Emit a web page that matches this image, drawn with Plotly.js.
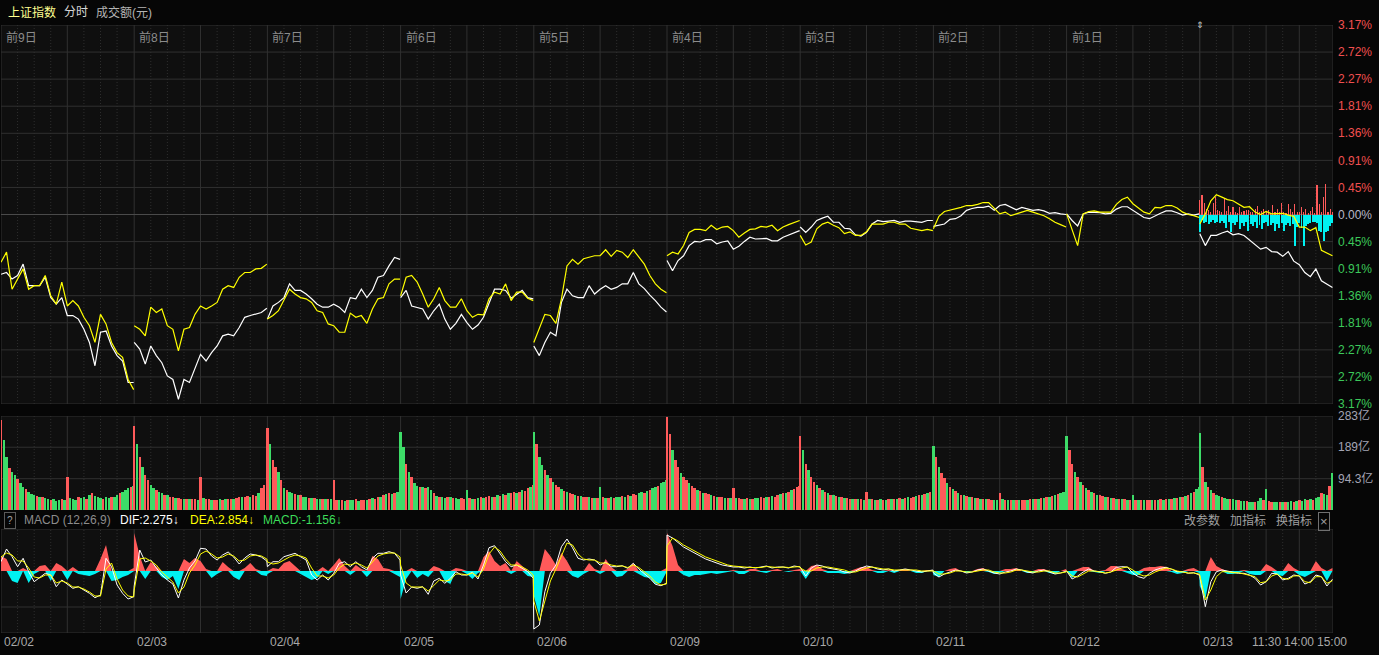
<!DOCTYPE html>
<html><head><meta charset="utf-8">
<script src="https://cdn.plot.ly/plotly-3.0.1.min.js"></script>
<style>html,body{margin:0;padding:0;background:#060606;}#chart{width:1379px;height:655px;}</style>
</head><body><div id="chart"></div>
<script>
// ---------------- DATA ----------------
const dayLabels = ['前9日','前8日','前7日','前6日','前5日','前4日','前3日','前2日','前1日',''];
const dateLabels = ['02/02','02/03','02/04','02/05','02/06','02/09','02/10','02/11','02/12','02/13'];
const timeLabels = ['11:30','14:00','15:00'];
const timeLabelMin = [120,180,240];
const pctTicks = [3.17,2.72,2.27,1.81,1.36,0.91,0.45,0,-0.45,-0.91,-1.36,-1.81,-2.27,-2.72,-3.17];
const volTicks = [94.3,189,283];
const volTickText = ['94.3亿','189亿','283亿'];

// price change (%) sampled every 10 minutes, one array per trading day
const priceWhite = [
 [-1.00,-0.97,-1.08,-1.02,-0.83,-1.19,-1.19,-1.19,-1.05,-1.39,-1.50,-1.39,-1.69,-1.69,-1.75,-1.92,-2.14,-2.53,-1.97,-1.95,-2.20,-2.36,-2.45,-2.81,-2.81],
 [-2.14,-2.25,-2.50,-2.20,-2.36,-2.48,-2.70,-2.76,-3.09,-2.76,-2.81,-2.59,-2.34,-2.45,-2.31,-2.20,-2.03,-2.00,-2.03,-1.89,-1.72,-1.69,-1.67,-1.64,-1.57],
 [-1.75,-1.53,-1.47,-1.39,-1.16,-1.27,-1.27,-1.33,-1.41,-1.50,-1.55,-1.55,-1.50,-1.55,-1.64,-1.39,-1.41,-1.25,-1.39,-1.27,-1.05,-1.02,-0.86,-0.72,-0.75],
 [-1.39,-1.27,-1.53,-1.55,-1.58,-1.75,-1.61,-1.50,-1.75,-1.92,-1.82,-1.67,-1.81,-1.92,-1.85,-1.72,-1.47,-1.25,-1.25,-1.27,-1.40,-1.33,-1.27,-1.39,-1.41],
 [-2.20,-2.36,-2.14,-1.97,-2.03,-1.47,-1.25,-1.36,-1.39,-1.39,-1.19,-1.33,-1.25,-1.19,-1.25,-1.22,-1.16,-1.16,-0.97,-1.16,-1.24,-1.35,-1.44,-1.55,-1.63],
 [-0.77,-0.94,-0.77,-0.69,-0.52,-0.45,-0.46,-0.42,-0.42,-0.49,-0.46,-0.44,-0.58,-0.53,-0.45,-0.38,-0.41,-0.41,-0.40,-0.44,-0.44,-0.38,-0.34,-0.30,-0.27],
 [-0.21,-0.30,-0.21,-0.10,-0.06,-0.03,-0.13,-0.13,-0.23,-0.24,-0.34,-0.36,-0.30,-0.16,-0.10,-0.12,-0.11,-0.10,-0.13,-0.11,-0.11,-0.12,-0.13,-0.10,-0.10],
 [-0.20,-0.18,-0.16,-0.08,-0.07,-0.02,0.07,0.10,0.12,0.12,0.14,0.07,0.15,0.17,0.12,0.08,0.12,0.09,0.07,0.08,0.06,0.02,0.03,0.01,0.00],
 [0.01,-0.10,-0.19,0.01,0.04,0.04,0.03,0.01,0.02,0.09,0.13,0.13,0.07,0.01,-0.05,-0.07,-0.02,0.02,0.06,0.06,0.03,-0.01,0.01,-0.01,0.01],
 [-0.32,-0.52,-0.35,-0.35,-0.31,-0.28,-0.34,-0.32,-0.35,-0.43,-0.50,-0.58,-0.55,-0.62,-0.63,-0.70,-0.62,-0.78,-0.84,-0.97,-1.04,-0.91,-1.11,-1.17,-1.22]
];
const priceYellow = [
 [-0.80,-0.63,-1.25,-1.08,-0.91,-1.25,-1.19,-1.19,-1.02,-1.36,-1.50,-1.13,-1.53,-1.44,-1.53,-1.72,-1.86,-2.14,-1.67,-1.83,-2.14,-2.31,-2.39,-2.76,-2.93],
 [-1.86,-1.92,-2.03,-1.55,-1.64,-1.58,-1.86,-1.92,-2.28,-1.92,-1.89,-1.67,-1.53,-1.58,-1.53,-1.47,-1.25,-1.19,-1.22,-1.05,-0.97,-0.97,-0.91,-0.90,-0.83],
 [-1.75,-1.69,-1.61,-1.44,-1.25,-1.33,-1.39,-1.41,-1.47,-1.61,-1.64,-1.83,-1.86,-1.97,-1.97,-1.65,-1.72,-1.69,-1.82,-1.58,-1.41,-1.39,-1.16,-1.08,-1.08],
 [-1.36,-1.05,-1.02,-1.13,-1.33,-1.55,-1.41,-1.22,-1.44,-1.55,-1.55,-1.41,-1.61,-1.72,-1.67,-1.68,-1.41,-1.30,-1.33,-1.16,-1.44,-1.30,-1.30,-1.40,-1.44],
 [-2.14,-1.92,-1.67,-1.69,-1.82,-1.41,-0.86,-0.75,-0.83,-0.74,-0.72,-0.69,-0.69,-0.59,-0.70,-0.60,-0.63,-0.72,-0.59,-0.72,-0.83,-1.02,-1.16,-1.25,-1.31],
 [-0.69,-0.63,-0.66,-0.52,-0.30,-0.25,-0.25,-0.27,-0.18,-0.25,-0.21,-0.20,-0.27,-0.38,-0.31,-0.25,-0.24,-0.20,-0.21,-0.18,-0.27,-0.21,-0.17,-0.14,-0.10],
 [-0.35,-0.51,-0.46,-0.24,-0.16,-0.13,-0.18,-0.22,-0.32,-0.29,-0.35,-0.35,-0.29,-0.16,-0.16,-0.16,-0.13,-0.13,-0.16,-0.16,-0.23,-0.25,-0.27,-0.25,-0.27],
 [-0.24,-0.03,0.05,0.07,0.10,0.12,0.15,0.15,0.17,0.20,0.20,0.10,0.01,0.04,-0.02,0.01,0.04,0.07,0.04,0.01,-0.02,-0.07,-0.13,-0.17,-0.21],
 [0.01,-0.24,-0.52,0.01,0.05,0.06,0.04,0.04,0.04,0.17,0.25,0.29,0.18,0.11,0.04,0.01,0.12,0.11,0.15,0.15,0.11,0.04,0.00,-0.02,-0.05],
 [-0.16,0.01,0.23,0.33,0.29,0.25,0.23,0.17,0.12,0.13,0.04,0.00,0.05,0.01,0.01,0.02,-0.01,-0.03,-0.21,-0.21,-0.27,-0.22,-0.60,-0.65,-0.69]
];
// today's buy/sell force bars (%), every 4 minutes
const flowUp = [0.25,0.33,0.20,0.10,0.08,0.05,0.20,0.30,0.08,0.06,0.05,0.28,0.06,0.15,0.04,0.12,0.05,0.03,0.12,0.04,0.06,0.08,0.07,0.05,0.04,0.10,0.14,0.04,0.06,0.10,0.05,0.08,0.03,0.16,0.05,0.10,0.04,0.20,0.05,0.03,0.18,0.10,0.04,0.18,0.05,0.04,0.12,0.04,0.10,0.03,0.06,0.12,0.02,0.49,0.18,0.05,0.30,0.51,0.05,0.10,0.05];
const flowDown = [-0.30,-0.10,-0.15,-0.12,-0.16,-0.13,-0.10,-0.14,-0.12,-0.15,-0.11,-0.14,-0.22,-0.12,-0.30,-0.15,-0.18,-0.12,-0.25,-0.14,-0.20,-0.12,-0.28,-0.16,-0.20,-0.12,-0.22,-0.17,-0.25,-0.15,-0.13,-0.20,-0.17,-0.14,-0.27,-0.16,-0.22,-0.14,-0.27,-0.18,-0.15,-0.20,-0.16,-0.52,-0.21,-0.15,-0.22,-0.52,-0.20,-0.16,-0.14,-0.13,-0.12,-0.15,-0.27,-0.30,-0.44,-0.30,-0.27,-0.20,-0.14];

// turnover (亿元) every 5 minutes, one array per day, with up(R)/down(G) colour codes
const volume = [
 [271,210,160,125,115,105,92,80,70,62,55,48,45,42,40,38,35,33,30,32,28,30,32,30,100,35,33,30,38,35,40,33,45,52,42,38,36,34,38,35,40,38,45,50,55,60,66,68,72],
 [253,200,160,130,105,90,75,66,60,55,50,45,45,40,38,36,36,34,33,33,32,33,32,30,100,35,33,32,30,31,30,32,30,33,32,34,33,35,40,38,40,42,40,45,42,50,66,75,70],
 [247,200,150,130,115,90,66,60,55,50,48,45,45,40,38,36,36,35,34,33,32,33,32,33,90,30,30,30,28,30,30,30,32,28,30,30,30,33,35,33,38,40,45,48,50,48,50,55,60],
 [235,190,140,115,100,80,72,70,68,66,70,60,50,42,40,38,36,38,40,35,36,34,35,33,60,36,34,33,36,38,35,40,42,38,40,45,42,48,45,50,52,55,50,55,60,58,65,70,75],
 [235,200,160,135,120,105,95,85,75,70,62,58,55,50,48,45,42,42,40,38,40,36,35,36,70,38,36,35,38,36,40,38,42,40,45,42,48,45,50,55,52,58,60,65,70,72,80,85,90],
 [280,230,180,150,130,110,100,90,80,72,66,60,56,52,50,48,45,42,40,40,38,36,36,35,65,36,35,34,33,35,34,33,36,35,38,36,40,38,42,40,45,48,50,52,55,60,62,68,72],
 [223,180,140,120,100,85,75,66,60,55,50,46,44,42,40,38,36,35,34,33,33,32,32,31,55,33,32,31,30,32,31,30,32,33,32,34,35,34,36,38,37,40,42,45,44,48,52,55,58],
 [193,160,130,110,95,80,70,62,56,50,46,44,42,40,38,36,35,34,33,32,32,31,30,30,50,32,31,30,30,31,30,29,30,31,30,32,33,32,34,35,36,38,40,42,45,48,50,55,60],
 [223,180,140,115,100,85,75,66,60,55,50,46,44,42,40,38,36,35,34,33,32,32,31,30,45,31,30,30,29,30,29,30,31,30,32,31,33,32,34,36,35,38,40,42,45,50,55,62,70],
 [232,130,85,68,60,50,45,42,38,36,34,33,32,30,30,28,28,26,25,25,24,26,36,30,63,26,25,24,24,25,24,25,24,26,25,28,30,28,33,30,33,30,36,39,51,48,45,72,111]
];
const volColor = [
 'RGGRGGRGGRGGGRGRGGRGGGRGRGGGRGGRGRGGGRGGRGGRGGGRG',
 'RGRGRRGGRGGRGRRGRRGRGRRGRGRRGRRGRGRRGRRGRRGRRGRRG',
 'RGRRGRGRGGRGRGGRGRGGRGRGRRGRGRGGRGRRGRGRRGRGRGRGR',
 'GGRGRGGRGRGGRGRGGRGRGGRRGRGRGRGRRGRGRGRGRRGRGRRGR',
 'GRGGRGRGRRGRGRRGRGRRGRGRGRGRGRGGRGRGRRGGRGRGGRGGG',
 'RRGRRGRRGRRGRGRRGRGRRGRGRGRRGRGRGGRRGRGRRGRGRGRRR',
 'RGRGRRGRGRGRGRGRGRRGRGRGRGRGRGRGRGRGRGRGRRGRGRGRG',
 'GRGRRGRGRGRGRGRGRGRGRRGGRGRGRGRGRRGRGRGRGRGRGRGGR',
 'GRRGRGRGRGRGRRGRGRGRGRGRGRGRGRRGRGRGRGRGRGRGRGRGG',
 'GRGRGRGGRGGRGGRGGRGGRGGRGRRGGRGRGGRGRGGRGRGGRGGRG'
];

// MACD (sampled every 10 minutes per day, continuous over the 10 days)
const difLine = [
 [0.93,2.2,1.43,0.43,1.27,-0.07,-1.07,-0.67,-0.23,-0.4,-1.57,-0.9,-1.33,-1.73,-1.57,-1.9,-2.23,-2.67,-2.4,1.27,0.43,-1.4,-2.23,-2.8,-2.57],
 [-1.5,2.1,0.9,1.1,0.3,-0.4,-0.9,-1.3,-2.7,-0.9,0.3,1.0,2.27,2.2,1.5,1.1,1.6,1.9,1.4,0.7,1.3,1.7,1.6,1.4,1.0],
 [0.43,0.93,0.93,1.43,1.6,1.77,1.43,1.1,-0.4,-0.9,-0.4,-0.9,-0.23,0.77,0.93,0.43,0.93,0.43,0.1,1.27,1.77,1.77,1.93,1.77,1.1],
 [-0.4,-2.2,-1.6,-1.73,-1.57,-2.33,-1.0,-0.73,-1.23,-0.73,-0.07,-0.4,-0.4,-0.13,-0.8,0.6,2.33,2.53,1.77,0.93,0.43,0.6,0.27,-0.07,-0.73],
 [-5.8,-5.4,-2.07,-0.23,0.6,2.43,3.2,2.33,1.27,1.1,1.2,1.1,0.6,0.87,0.43,0.43,0.53,0.27,0.77,0.2,-0.23,-0.73,-1.33,-1.47,-1.23],
 [3.6,3.3,2.8,2.4,2.1,1.8,1.5,1.2,1.0,0.8,0.6,0.5,0.4,0.4,0.3,0.4,0.3,0.4,0.5,0.3,0.4,0.4,0.3,0.5,0.4],
 [0.4,-0.5,0.3,0.6,0.5,0.3,0.2,0.1,-0.1,-0.2,0.0,0.3,0.5,0.4,0.2,0.1,0.2,0.0,0.1,0.2,0.1,0.0,-0.1,0.0,0.1],
 [-0.2,-0.6,-0.3,-0.1,0.1,0.0,-0.2,-0.1,0.1,0.2,0.0,-0.2,-0.3,-0.1,0.0,0.2,0.1,-0.1,-0.2,0.0,0.1,-0.1,-0.3,-0.2,0.0],
 [0.0,-0.8,-0.5,-0.1,0.2,0.0,-0.07,-0.23,-0.1,0.37,0.43,0.4,-0.23,-0.57,-0.73,-0.23,0.1,0.27,0.37,0.17,-0.07,-0.07,-0.23,-0.17,-0.4],
 [-0.57,-3.57,-1.07,-0.07,0.1,0.0,-0.1,-0.23,-0.23,-0.4,-0.73,-1.4,-1.07,-0.23,-0.3,-0.9,-0.73,-0.4,-0.5,-1.3,-1.07,-0.4,-0.57,-1.5,-0.83]
];
const deaLine = [
 [1.4,1.8,1.6,1.0,1.0,0.3,-0.6,-0.7,-0.4,-0.4,-1.2,-1.0,-1.2,-1.6,-1.6,-1.8,-2.1,-2.5,-2.5,0.2,0.8,-0.8,-1.9,-2.5,-2.6],
 [-1.9,1.2,1.3,1.0,0.6,-0.1,-0.6,-1.1,-2.2,-1.6,-0.2,0.6,1.7,2.0,1.7,1.3,1.4,1.7,1.5,1.0,1.1,1.5,1.6,1.5,1.2],
 [0.9,0.7,0.8,1.1,1.4,1.6,1.5,1.3,0.3,-0.5,-0.5,-0.7,-0.4,0.3,0.7,0.6,0.8,0.6,0.3,0.9,1.5,1.7,1.8,1.8,1.4],
 [0.6,-1.2,-1.6,-1.6,-1.6,-2.0,-1.5,-0.9,-1.0,-0.9,-0.3,-0.3,-0.4,-0.2,-0.6,0.2,1.7,2.4,2.0,1.2,0.6,0.6,0.4,0.1,-0.4],
 [-3.0,-5.0,-3.0,-1.0,0.2,1.6,2.8,2.6,1.7,1.2,1.1,1.1,0.8,0.8,0.6,0.5,0.5,0.35,0.6,0.35,-0.05,-0.5,-1.1,-1.4,-1.3],
 [2.5,3.3,3.0,2.6,2.3,2.0,1.7,1.4,1.2,1.0,0.8,0.6,0.5,0.45,0.35,0.35,0.35,0.35,0.45,0.4,0.35,0.4,0.35,0.4,0.45],
 [0.3,0.0,0.0,0.3,0.4,0.4,0.3,0.2,0.1,-0.1,-0.1,0.1,0.3,0.4,0.3,0.2,0.2,0.1,0.1,0.1,0.1,0.1,0.0,0.0,0.0],
 [0.0,-0.3,-0.3,-0.2,0.0,0.0,-0.1,-0.1,0.0,0.1,0.1,-0.1,-0.2,-0.2,-0.1,0.1,0.1,0.0,-0.1,-0.1,0.0,0.0,-0.2,-0.2,-0.1],
 [0.0,-0.5,-0.6,-0.3,0.0,0.0,-0.1,-0.2,-0.1,0.1,0.3,0.4,0.1,-0.3,-0.5,-0.4,-0.1,0.1,0.3,0.2,0.0,-0.1,-0.2,-0.2,-0.3],
 [-0.4,-2.9,-1.9,-0.57,-0.07,-0.07,-0.17,-0.17,-0.3,-0.4,-0.57,-1.17,-1.07,-0.5,-0.3,-0.73,-0.83,-0.5,-0.47,-1.07,-1.17,-0.57,-0.57,-1.23,-0.97]
];
const macdHist = [
 [1.5,1.2,-1.0,-1.2,0.3,-1.2,-0.3,0.5,0.6,-1.0,0.8,0.5,-0.9,0.4,-0.3,-0.4,-0.5,-0.3,1.2,2.6,-1.0,-0.9,-0.6,-0.4,0.3],
 [3.8,1.5,-0.8,0.9,0.4,-0.6,-0.9,-0.5,-1.8,1.2,0.8,1.3,1.0,0.2,-0.7,-0.3,0.9,0.4,-0.6,-0.9,0.3,0.8,0.2,-0.4,-0.5],
 [-0.3,0.3,0.2,0.8,1.0,0.5,-0.3,-0.6,-0.9,-0.7,0.4,-0.3,0.6,1.3,0.5,-0.4,0.6,0.2,-0.6,1.5,1.2,0.3,0.2,-0.3,-0.6],
 [-2.8,-0.8,0.3,-0.7,-0.3,-0.6,0.5,0.3,-1.0,-1.3,0.3,0.2,-0.3,-0.8,-0.2,1.4,2.0,1.0,0.5,0.8,-0.3,1.0,0.5,-0.5,-0.6],
 [-2.5,-4.5,2.2,1.5,0.6,1.8,1.0,-0.5,-0.7,-0.3,0.8,0.2,-0.3,1.2,0.4,-0.6,-0.5,0.2,0.8,-0.3,-0.6,-0.7,-1.3,-1.2,0.3],
 [3.8,2.5,0.6,-0.4,-0.6,-0.4,-0.4,-0.3,-0.2,-0.3,-0.2,-0.1,0.1,-0.3,-0.3,0.2,0.2,-0.1,-0.2,0.1,0.2,0.0,-0.1,0.1,0.2],
 [0.2,-0.8,0.5,0.6,0.2,-0.2,-0.2,-0.2,-0.3,-0.2,0.2,0.4,0.4,0.1,-0.2,-0.2,0.1,-0.2,0.1,0.2,0.0,-0.2,-0.2,0.1,0.1],
 [-0.4,-0.6,0.0,0.2,0.3,0.0,-0.2,0.0,0.2,0.3,-0.1,-0.3,-0.2,0.2,0.2,0.3,0.0,-0.2,-0.2,0.2,0.2,-0.2,-0.3,0.0,0.2],
 [0.0,-0.7,0.2,0.4,0.4,-0.1,-0.2,0.1,0.5,0.5,0.2,-0.2,-0.4,-0.4,0.3,0.4,0.4,0.5,0.4,-0.1,-0.3,-0.2,0.2,0.3,-0.2],
 [-1.5,-2.8,1.4,0.5,0.2,-0.3,-0.3,-0.2,0.1,-0.3,-0.4,-0.4,0.7,0.4,-0.4,-0.5,0.8,0.3,-0.4,-0.6,-0.3,1.0,0.3,-1.0,0.3]
];

// ---------------- BUILD ----------------
const DAY = 241, NDAYS = 10, XMAX = DAY*NDAYS;
const FONT = 'Liberation Sans, Arial, Noto Sans CJK SC, sans-serif';
const RED = '#ff5a5a', GREEN = '#3ddc68', CYAN = '#00f2f2';
const TOP = 25, BOTTOM = 633, PH = BOTTOM - TOP;
const py = p => (BOTTOM - p) / PH;          // pixel row -> paper fraction (for text placement)

function perDay(days, step, gaps){
  const xs=[], ys=[];
  days.forEach((arr,d)=>{
    arr.forEach((v,k)=>{ xs.push(d*DAY + k*step); ys.push(v); });
    if (gaps){ xs.push(d*DAY + DAY - 0.5); ys.push(null); }
  });
  return {xs, ys};
}

const traces = [];
// today's force bars
traces.push({type:'bar', x: flowUp.map((v,k)=>9*DAY + k*4), y: flowUp, base:0, width:2, marker:{color:RED, line:{width:0}}, xaxis:'x', yaxis:'y'});
traces.push({type:'bar', x: flowDown.map((v,k)=>9*DAY + k*4), y: flowDown, base:0, width:3.6, marker:{color:CYAN, line:{width:0}}, xaxis:'x', yaxis:'y'});
// price lines
const pw = perDay(priceWhite, 10, true), pyl = perDay(priceYellow, 10, true);
traces.push({type:'scatter', mode:'lines', x: pw.xs, y: pw.ys, line:{color:'#ffffff', width:1.2}, connectgaps:false, xaxis:'x', yaxis:'y'});
traces.push({type:'scatter', mode:'lines', x: pyl.xs, y: pyl.ys, line:{color:'#ffff00', width:1.2}, connectgaps:false, xaxis:'x', yaxis:'y'});
// volume bars
const vx=[], vy=[], vc=[];
volume.forEach((arr,d)=>arr.forEach((v,k)=>{ vx.push(d*DAY + k*5); vy.push(v); vc.push((volColor[d][k]||'G')==='R'?RED:GREEN); }));
traces.push({type:'bar', x: vx, y: vy, width:4.4, marker:{color:vc, line:{width:0}}, xaxis:'x', yaxis:'y2'});
// MACD histogram as filled areas
const mh = perDay(macdHist, 10, false);
traces.push({type:'scatter', mode:'lines', x: mh.xs, y: mh.ys.map(v=>Math.max(v,0)), fill:'tozeroy', fillcolor:RED, line:{width:0, color:RED}, xaxis:'x', yaxis:'y3'});
traces.push({type:'scatter', mode:'lines', x: mh.xs, y: mh.ys.map(v=>Math.min(v,0)), fill:'tozeroy', fillcolor:CYAN, line:{width:0, color:CYAN}, xaxis:'x', yaxis:'y3'});
const md = perDay(difLine, 10, false), me = perDay(deaLine, 10, false);
traces.push({type:'scatter', mode:'lines', x: md.xs, y: md.ys, line:{color:'#ffffff', width:1}, xaxis:'x', yaxis:'y3'});
traces.push({type:'scatter', mode:'lines', x: me.xs, y: me.ys, line:{color:'#ffff00', width:1}, xaxis:'x', yaxis:'y3'});

// ---------------- GRID / PANELS ----------------
const shapes = [];
const panels = [
  {yref:'y', y0:-3.17, y1:3.17},
  {yref:'y2', y0:0, y1:283},
  {yref:'y3', y0:-6.2, y1:4.2}
];
const SOLID = '#303030', DOT = '#2e2e2e';
panels.forEach(p=>{
  shapes.push({type:'rect', layer:'below', xref:'x', yref:p.yref, x0:0, x1:XMAX, y0:p.y0, y1:p.y1, fillcolor:'#0f0f0f', line:{width:0}});
});
panels.forEach(p=>{
  for (let d=0; d<NDAYS; d++){
    for (let k=0; k<8; k++){
      const solid = (k%4===0) || (d===NDAYS-1 && k%2===0);
      shapes.push({type:'line', layer:'below', xref:'x', yref:p.yref, x0:d*DAY+k*30, x1:d*DAY+k*30, y0:p.y0, y1:p.y1,
        line:{color: solid ? (d===NDAYS-1 && k===0 ? '#3a3a3a' : SOLID) : DOT, width:1, dash: solid ? 'solid' : '1px,2px'}});
    }
  }
  shapes.push({type:'line', layer:'below', xref:'x', yref:p.yref, x0:XMAX, x1:XMAX, y0:p.y0, y1:p.y1, line:{color:SOLID, width:1}});
});
const step = 3.17/7;
for (let k=-7; k<=7; k++){
  shapes.push({type:'line', layer:'below', xref:'x', yref:'y', x0:0, x1:XMAX, y0:k*step, y1:k*step, line:{color: k===0 ? '#4a4a4a' : SOLID, width:1}});
}
[0, 94.3, 189, 283].forEach(v=>shapes.push({type:'line', layer:'below', xref:'x', yref:'y2', x0:0, x1:XMAX, y0:v, y1:v, line:{color:SOLID, width:1}}));
[4.2, -3.6, -6.2].forEach(v=>shapes.push({type:'line', layer:'below', xref:'x', yref:'y3', x0:0, x1:XMAX, y0:v, y1:v, line:{color:SOLID, width:1}}));

// ---------------- TEXT ----------------
const ann = [];
const txt = (o)=>ann.push(Object.assign({showarrow:false, font:{family:FONT, size:12, color:'#a0a0a0'}}, o));
txt({xref:'paper', yref:'paper', x:0, xshift:5, y:py(12), xanchor:'left', yanchor:'middle', text:'上证指数', font:{family:FONT, size:12, color:'#ffff90'}});
txt({xref:'paper', yref:'paper', x:0, xshift:61, y:py(12), xanchor:'left', yanchor:'middle', text:'分时', font:{family:FONT, size:12, color:'#d8d8d8'}});
txt({xref:'paper', yref:'paper', x:0, xshift:93, y:py(12), xanchor:'left', yanchor:'middle', text:'成交额(元)', font:{family:FONT, size:12, color:'#b4b4b4'}});
dayLabels.forEach((t,d)=>{ if(t) txt({xref:'x', yref:'paper', x:d*DAY, xshift:3, y:py(37), xanchor:'left', yanchor:'middle', text:t, font:{family:FONT, size:12, color:'#8c8c8c'}}); });
dateLabels.forEach((t,d)=>txt({xref:'x', yref:'paper', x:d*DAY, xshift:1, y:py(642), xanchor:'left', yanchor:'middle', text:t, font:{family:FONT, size:12, color:'#a8a8a8'}}));
timeLabels.forEach((t,i)=>txt({xref:'x', yref:'paper', x:9*DAY+timeLabelMin[i], y:py(642), xanchor:'center', yanchor:'middle', text:t, font:{family:FONT, size:12, color:'#a8a8a8'}}));
// MACD header
txt({xref:'paper', yref:'paper', x:0, xshift:3, y:py(520), xanchor:'left', yanchor:'middle', text:'?', bordercolor:'#5a5a5a', borderwidth:1, borderpad:2, font:{family:FONT, size:10, color:'#a0a0a0'}});
txt({xref:'paper', yref:'paper', x:0, xshift:21, y:py(520), xanchor:'left', yanchor:'middle', text:'MACD (12,26,9)', font:{family:FONT, size:12, color:'#8c8c8c'}});
txt({xref:'paper', yref:'paper', x:0, xshift:117, y:py(520), xanchor:'left', yanchor:'middle', text:'DIF:2.275↓', font:{family:FONT, size:12, color:'#ffffff'}});
txt({xref:'paper', yref:'paper', x:0, xshift:187, y:py(520), xanchor:'left', yanchor:'middle', text:'DEA:2.854↓', font:{family:FONT, size:12, color:'#ffff00'}});
txt({xref:'paper', yref:'paper', x:0, xshift:260, y:py(520), xanchor:'left', yanchor:'middle', text:'MACD:-1.156↓', font:{family:FONT, size:12, color:'#3ddc5a'}});
txt({xref:'paper', yref:'paper', x:1, xshift:-151, y:py(520), xanchor:'left', yanchor:'middle', text:'改参数', font:{family:FONT, size:12, color:'#a0a0a0'}});
txt({xref:'paper', yref:'paper', x:1, xshift:-105, y:py(520), xanchor:'left', yanchor:'middle', text:'加指标', font:{family:FONT, size:12, color:'#a0a0a0'}});
txt({xref:'paper', yref:'paper', x:1, xshift:-59, y:py(520), xanchor:'left', yanchor:'middle', text:'换指标', font:{family:FONT, size:12, color:'#a0a0a0'}});
txt({xref:'paper', yref:'paper', x:1, xshift:-15, y:py(521), xanchor:'left', yanchor:'middle', text:'×', bordercolor:'#707070', borderwidth:1, borderpad:1, font:{family:FONT, size:13, color:'#a0a0a0'}});
txt({xref:'x', yref:'paper', x:9*DAY, y:py(25), xanchor:'center', yanchor:'middle', text:'⇕', font:{family:'DejaVu Sans', size:9, color:'#c8c8c8'}});

const pctText = pctTicks.map(v=> v>0 ? `<span style="color:#f05050">${v.toFixed(2)}%</span>` : v<0 ? `<span style="color:#3cc85a">${Math.abs(v).toFixed(2)}%</span>` : `<span style="color:#b8b8c8">0.00%</span>`);

const layout = {
  width:1379, height:655,
  margin:{l:1, r:46, t:TOP, b:655-BOTTOM, pad:0},
  paper_bgcolor:'#060606', plot_bgcolor:'#070707',
  showlegend:false, hovermode:false, barmode:'overlay', bargap:0,
  font:{family:FONT, size:12, color:'#a0a0a0'},
  xaxis:{range:[0, XMAX], showgrid:false, zeroline:false, showticklabels:false, showline:false, ticks:'', fixedrange:true},
  yaxis:{domain:[py(404), 1], range:[-3.17, 3.17], side:'right', anchor:'x', tickvals:pctTicks.map((v,i)=>(7-i)*step), ticktext:pctText,
         showgrid:false, zeroline:false, showline:false, ticks:'', ticklabelstandoff:4, tickfont:{family:FONT, size:12, color:'#a0a0a0'}, fixedrange:true},
  yaxis2:{domain:[py(510), py(416)], range:[0, 283], side:'right', anchor:'x', tickvals:volTicks, ticktext:volTickText,
         showgrid:false, zeroline:false, showline:false, ticks:'', ticklabelstandoff:4, tickfont:{family:FONT, size:12, color:'#a4a4b4'}, fixedrange:true},
  yaxis3:{domain:[0, py(529)], range:[-6.2, 4.2], side:'right', anchor:'x', showticklabels:false, showgrid:false, zeroline:false, showline:false, ticks:'', fixedrange:true},
  shapes, annotations: ann
};
Plotly.newPlot('chart', traces, layout, {displayModeBar:false, staticPlot:true});
</script></body></html>
